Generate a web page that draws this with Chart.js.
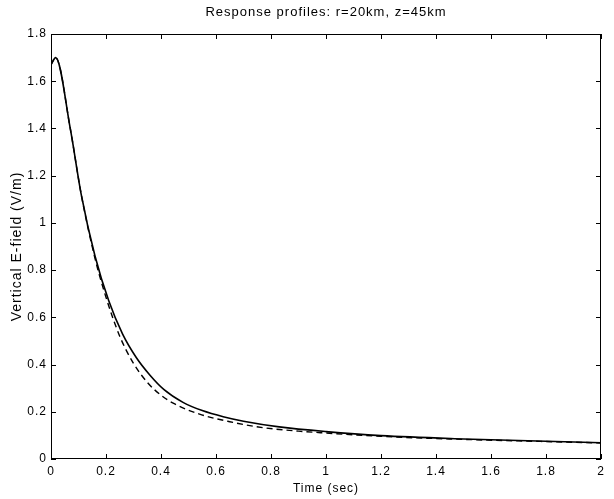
<!DOCTYPE html>
<html>
<head>
<meta charset="utf-8">
<script src="https://cdn.jsdelivr.net/npm/chart.js@4/dist/chart.umd.min.js"></script>
<style>
  html, body { margin: 0; padding: 0; background: #fff; }
  canvas { display: block; }
</style>
</head>
<body>
<canvas id="resp" width="614" height="499"></canvas>
<script>
// Vertical E-field response, r=20km, z=45km
const TIME_SOLID = [0, 0.017, 0.07, 0.11, 0.16, 0.21, 0.26, 0.31, 0.36, 0.41, 0.48, 0.55, 0.63, 0.7, 0.83, 1.0, 1.2, 1.5, 1.8, 2.0];
const EFIELD_SOLID = [1.67, 1.70, 1.40, 1.12, 0.86, 0.67, 0.53, 0.43, 0.355, 0.295, 0.24, 0.205, 0.178, 0.16, 0.136, 0.116, 0.099, 0.085, 0.075, 0.069];

const TIME_DASHED = [0, 0.017, 0.07, 0.11, 0.16, 0.2, 0.25, 0.3, 0.35, 0.4, 0.45, 0.54, 0.65, 0.77, 0.9, 1.0, 1.2, 1.5, 1.8, 2.0];
const EFIELD_DASHED = [1.67, 1.70, 1.40, 1.12, 0.85, 0.685, 0.52, 0.405, 0.325, 0.27, 0.233, 0.19, 0.158, 0.133, 0.118, 0.11, 0.096, 0.083, 0.074, 0.068];

const X_RANGE = [0, 2];
const Y_RANGE = [0, 1.8];
const TICK_STEP = 0.2;

const FAMILY = '"Liberation Sans", Arial, Helvetica, sans-serif';
Chart.defaults.color = '#000';
Chart.defaults.font = { family: FAMILY, size: 12 };

const pts = (xs, ys) => xs.map((x, i) => ({ x, y: ys[i] }));
const fmt = (v) => String(+Number(v).toFixed(1));

// slightly spaced-out lettering for all text
const spacing = {
  id: 'spacing',
  beforeDraw(chart) { chart.ctx.letterSpacing = '1px'; },
};

// axes box with ticks pointing inward on all four sides
const frame = {
  id: 'frame',
  afterDatasetsDraw(chart) {
    const { ctx, chartArea: a, scales: { x, y } } = chart;
    const len = 5;
    ctx.save();
    ctx.strokeStyle = '#000';
    ctx.lineWidth = 1;
    ctx.strokeRect(a.left + 0.5, a.top + 0.5, a.right - a.left - 1, a.bottom - a.top - 1);
    ctx.beginPath();
    x.ticks.forEach((t) => {
      const px = Math.round(x.getPixelForValue(t.value)) + 0.5;
      ctx.moveTo(px, a.bottom); ctx.lineTo(px, a.bottom - len);
      ctx.moveTo(px, a.top); ctx.lineTo(px, a.top + len);
    });
    y.ticks.forEach((t) => {
      const py = Math.round(y.getPixelForValue(t.value)) + 0.5;
      ctx.moveTo(a.left, py); ctx.lineTo(a.left + len, py);
      ctx.moveTo(a.right, py); ctx.lineTo(a.right - len, py);
    });
    ctx.stroke();
    ctx.restore();
  },
};

new Chart(document.getElementById('resp'), {
  type: 'line',
  data: {
    datasets: [
      {
        data: pts(TIME_SOLID, EFIELD_SOLID),
        borderColor: '#000', borderWidth: 1.6, pointRadius: 0,
        cubicInterpolationMode: 'monotone',
      },
      {
        data: pts(TIME_DASHED, EFIELD_DASHED),
        borderColor: '#000', borderWidth: 1.4, borderDash: [6, 4], pointRadius: 0,
        cubicInterpolationMode: 'monotone',
      },
    ],
  },
  options: {
    responsive: false,
    animation: false,
    layout: { padding: { right: 13 } },
    plugins: {
      legend: { display: false },
      tooltip: { enabled: false },
      title: {
        display: true,
        text: 'Response profiles: r=20km, z=45km',
        fullSize: false,
        font: { family: FAMILY, size: 13, weight: 'normal' },
        padding: { top: 4.5, bottom: 13.9 },
      },
    },
    scales: {
      x: {
        type: 'linear', min: X_RANGE[0], max: X_RANGE[1],
        grid: { display: false, drawTicks: false }, border: { display: false },
        ticks: { stepSize: TICK_STEP, callback: fmt, padding: 5, maxRotation: 0 },
        title: { display: true, text: 'Time (sec)', padding: { top: 0, bottom: 3 } },
        afterFit: (s) => { s.height = 40; },
      },
      y: {
        type: 'linear', min: Y_RANGE[0], max: Y_RANGE[1],
        grid: { display: false, drawTicks: false }, border: { display: false },
        ticks: { stepSize: TICK_STEP, callback: fmt, padding: 4 },
        title: {
          display: true, text: 'Vertical E-field (V/m)',
          font: { family: FAMILY, size: 14 },
          padding: { top: 8.5, bottom: 0 },
        },
        afterFit: (s) => { s.width = 51; },
      },
    },
  },
  plugins: [spacing, frame],
});
</script>
</body>
</html>
